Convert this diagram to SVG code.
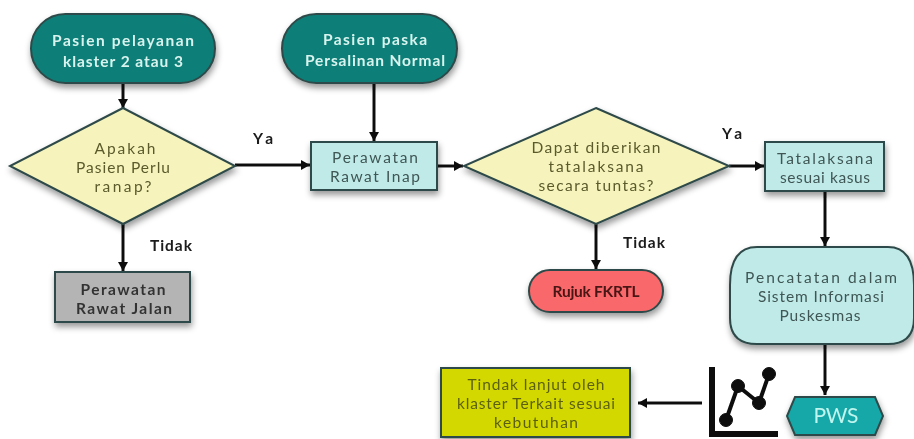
<svg xmlns="http://www.w3.org/2000/svg" width="914" height="439" viewBox="0 0 914 439">
<style>
text{font-family:Lato,"Liberation Sans",sans-serif;text-anchor:middle;font-size:15.5px}
.s{stroke:#2f4a48;stroke-width:2;filter:url(#sh)}
.teal{fill:#0b7f78}.yel{fill:#f6f4bc}.cy{fill:#bfeae8}
.w{fill:#d8f3ee;font-weight:700}
.d{fill:#5a5a2c}.c{fill:#3f5654}.l{fill:#5c6010}
.k{fill:#1a1a1a;font-weight:700}
.g{fill:#333;font-weight:700}
.c1{fill:none;stroke:#111;stroke-width:3;marker-end:url(#a)}
</style>
<defs>
<filter id="sh" x="-15%" y="-20%" width="130%" height="150%"><feDropShadow dx="1" dy="4" stdDeviation="3" flood-color="#000" flood-opacity=".4"/></filter>
<filter id="b" x="-5%" y="-5%" width="110%" height="110%"><feGaussianBlur stdDeviation=".7"/></filter>
<marker id="a" markerUnits="userSpaceOnUse" markerWidth="11" markerHeight="11" refX="9" refY="5" orient="auto"><path d="M0 0L9 5L0 10Z" fill="#111"/></marker>
</defs>
<rect width="914" height="439" fill="#fff"/>
<g filter="url(#b)">
<g id="connectors">
<path class="c1" d="M123 83V108"/>
<path class="c1" d="M374 83V141"/>
<path class="c1" d="M235 165H310"/>
<path class="c1" d="M437 166H463"/>
<path class="c1" d="M729 166H764"/>
<path class="c1" d="M123 224V271"/>
<path class="c1" d="M596 224V269"/>
<path class="c1" d="M825 191V246"/>
<path class="c1" d="M825 344V395"/>
<path class="c1" d="M702 403H638"/>
</g>
<g id="n1"><rect class="s teal" x="31" y="14" width="184" height="69" rx="34.500"/><text class="w" x="123" y="46" textLength="142">Pasien pelayanan</text><text class="w" x="123" y="67" textLength="120">klaster 2 atau 3</text></g>
<g id="n2"><rect class="s teal" x="282" y="14" width="175" height="69" rx="34.500"/><text class="w" x="375" y="45" textLength="104">Pasien paska</text><text class="w" x="375" y="66" textLength="140">Persalinan Normal</text></g>
<g id="d1"><path class="s yel" d="M123 108L235 166L123 224L10 166Z"/><text class="d" x="125" y="154" textLength="61">Apakah</text><text class="d" x="123" y="173" textLength="94">Pasien Perlu</text><text class="d" x="123" y="192" textLength="57">ranap?</text></g>
<g id="r1"><rect class="s cy" x="311" y="142" width="126" height="48"/><text class="c" x="375" y="163" textLength="86">Perawatan</text><text class="c" x="375" y="182" textLength="90">Rawat Inap</text></g>
<g id="d2"><path class="s yel" d="M596 108L729 166L596 224L464 166Z"/><text class="d" x="596" y="153" textLength="129">Dapat diberikan</text><text class="d" x="596" y="172" textLength="95">tatalaksana</text><text class="d" x="596" y="191" textLength="115">secara tuntas?</text></g>
<g id="r2"><rect class="s cy" x="765" y="142" width="119" height="49"/><text class="c" x="825" y="164" textLength="96">Tatalaksana</text><text class="c" x="825" y="183" textLength="90">sesuai kasus</text></g>
<g id="r3"><rect class="s" fill="#b4b4b4" x="55" y="272" width="135" height="50"/><text class="g" x="123" y="295" textLength="85">Perawatan</text><text class="g" x="124" y="314" textLength="96">Rawat Jalan</text></g>
<g id="r4"><rect class="s" fill="#f9686a" x="529" y="270" width="134" height="42" rx="21"/><text x="596" y="297" textLength="87" style="fill:#4a1414;font-weight:700">Rujuk FKRTL</text></g>
<g id="p1"><path class="s cy" d="M757 247H888Q914 247 914 285V318Q914 344 888 344H757Q730 344 730 318V285Q730 247 757 247Z"/><text class="c" x="821" y="283" textLength="152">Pencatatan  dalam</text><text class="c" x="821" y="302" textLength="126">Sistem Informasi</text><text class="c" x="820" y="321" textLength="81">Puskesmas</text></g>
<g id="p2"><path class="s" fill="#14a8a8" d="M795 397H875L883 416L875 435H795L787 416Z"/><text x="836" y="423" textLength="45" style="fill:#bff5ee;font-size:21px">PWS</text></g>
<g id="r5"><rect class="s" fill="#d2d800" x="441" y="368" width="189" height="69"/><text class="l" x="536" y="390" textLength="137">Tindak lanjut oleh</text><text class="l" x="536" y="409" textLength="158">klaster Terkait sesuai</text><text class="l" x="536" y="428" textLength="84">kebutuhan</text></g>
<g id="chart" fill="#111" stroke="#111"><path d="M712 367V434H778" fill="none" stroke-width="6"/><path d="M726 420L738 386L759 403L769 374" fill="none" stroke-width="4"/><circle cx="726" cy="420" r="6.500"/><circle cx="738" cy="386" r="6.500"/><circle cx="759" cy="403" r="6.500"/><circle cx="769" cy="374" r="6.500"/></g>
<text class="k" x="263" y="144" textLength="20">Ya</text>
<text class="k" x="171" y="251" textLength="42">Tidak</text>
<text class="k" x="732" y="139" textLength="20">Ya</text>
<text class="k" x="644" y="248" textLength="42">Tidak</text>
</g>
</svg>
